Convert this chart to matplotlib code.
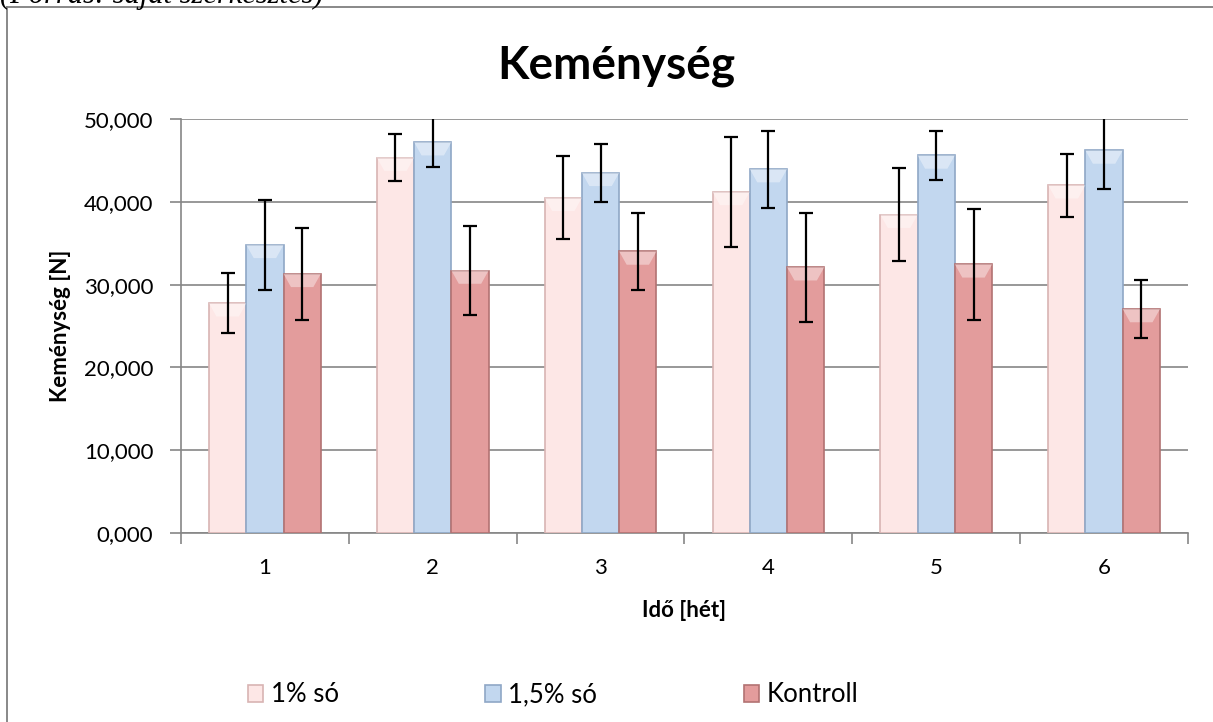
import matplotlib.pyplot as plt
import matplotlib.patches as mpatches
import numpy as np

plt.rcParams['font.family'] = ['Lato', 'DejaVu Sans']

weeks = ['1', '2', '3', '4', '5', '6']
series = ['1% só', '1,5% só', 'Kontroll']
so_1 = [27.75, 45.35, 40.5, 41.2, 38.45, 42.0]
so_1_err = [3.65, 2.85, 5.0, 6.65, 5.65, 3.8]
so_15 = [34.8, 47.2, 43.5, 43.95, 45.6, 46.2]
so_15_err = [5.45, 3.0, 3.5, 4.65, 3.0, 4.6]
kontroll = [31.3, 31.7, 34.0, 32.1, 32.45, 27.05]
kontroll_err = [5.55, 5.4, 4.6, 6.6, 6.7, 3.55]

fills = ['#FDE7E6', '#C2D7EF', '#E39C9C']
edges = ['#D8B4B3', '#8FA7C6', '#B27272']

fig = plt.figure(figsize=(12.13, 7.22), dpi=100)
ax = fig.add_axes([181/1213, 1-533/722, (1188-181)/1213, (533-119)/722])

x = np.arange(len(weeks))
w = 0.222
data = [(so_1, so_1_err), (so_15, so_15_err), (kontroll, kontroll_err)]
handles = []
for i, (vals, errs) in enumerate(data):
    pos = x + (i - 1) * w
    bars = ax.bar(pos, vals, width=w, color=fills[i], edgecolor=edges[i],
                  linewidth=1.2, zorder=3, label=series[i])
    # light bevel on top of each bar
    for b in bars:
        bx, bw, bh = b.get_x(), b.get_width(), b.get_height()
        tri = mpatches.Polygon([[bx, bh], [bx + bw, bh], [bx + bw*0.8, bh - 1.6],
                                [bx + bw*0.2, bh - 1.6]], closed=True,
                               facecolor='white', alpha=0.4, edgecolor='none', zorder=4)
        ax.add_patch(tri)
    ax.errorbar(pos, vals, yerr=errs, fmt='none', ecolor='black', elinewidth=1.6,
                capsize=5, capthick=1.6, zorder=5, clip_on=True)
    handles.append(mpatches.Patch(facecolor=fills[i], edgecolor=edges[i], linewidth=1.2))

ax.set_ylim(0, 50)
ax.set_xlim(-0.5, len(weeks) - 0.5)
ax.set_yticks(np.arange(0, 51, 10))
ax.set_yticklabels([f'{v:,.3f}'.replace('.', ',') for v in np.arange(0, 51, 10)])
ax.set_xticks(x)
ax.set_xticklabels(weeks)
ax.set_xticks(np.arange(-0.5, len(weeks), 1), minor=True)
ax.tick_params(axis='x', which='major', length=0, pad=18, labelsize=16)
ax.tick_params(axis='x', which='minor', length=8, color='#868686', width=1.2)
ax.tick_params(axis='y', length=8, color='#868686', width=1.2, pad=12, labelsize=16)
ax.grid(axis='y', color='#868686', linewidth=1.2, zorder=0)
ax.set_axisbelow(True)
for s in ['top', 'right']:
    ax.spines[s].set_visible(False)
for s in ['left', 'bottom']:
    ax.spines[s].set_color('#868686')
    ax.spines[s].set_linewidth(1.2)

ax.set_ylabel('Keménység [N]', fontsize=16, fontweight='bold', labelpad=9)
ax.set_xlabel('Idő [hét]', fontsize=16, fontweight='bold', labelpad=16)
fig.text(616/1213, 1-66/722, 'Keménység', ha='center', va='center',
         fontsize=33, fontweight='bold')

fig.legend(handles, series, loc='center', bbox_to_anchor=(553/1213, 1-695/722),
           ncol=3, frameon=False, fontsize=18.5, handlelength=0.6, handleheight=0.6,
           handletextpad=0.3, columnspacing=5.7)

# outer chart frame (cut off on the right and bottom)
fig.add_artist(plt.Line2D([7/1213, 7/1213], [0, 1-7/722], color='#7F7F7F', lw=1.3))
fig.add_artist(plt.Line2D([7/1213, 1], [1-7/722, 1-7/722], color='#7F7F7F', lw=1.3))
fig.text(0, 1-3/722, '(Forrás: saját szerkesztés)', ha='left', va='baseline',
         fontsize=22, style='italic', family='Liberation Serif')

fig.savefig('out.png', dpi=100)
